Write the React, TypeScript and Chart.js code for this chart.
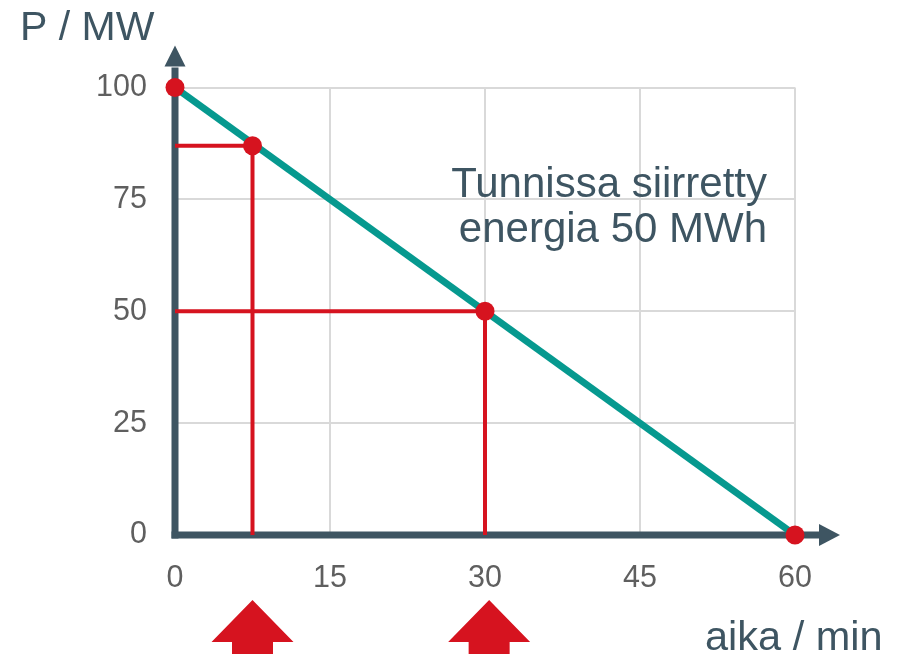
import React, { useEffect, useRef } from 'react';
import { Chart, registerables } from 'chart.js';

Chart.register(...registerables);

// ---- data ----
const xTickValues = [0, 15, 30, 45, 60];
const yTickValues = [0, 25, 50, 75, 100];
const lineX = [0, 60];
const lineY = [100, 0];
const markX = [0, 7.5, 30, 60];
const markY = [100, 87, 50, 0];
const guideX = [7.5, 30];
const guideY = [87, 50];
const arrowX = [7.5, 30.4];
const yTitle = 'P / MW';
const xTitle = 'aika / min';
const noteLines = ['Tunnissa siirretty', 'energia 50 MWh'];

// ---- styles ----
const AXIS = '#3e5562';
const TEAL = '#06998f';
const RED = '#d6131f';
const GRID = '#d9d9d9';
const TICK = '#5f5f5f';
const FONT = '"Liberation Sans", Arial, sans-serif';

const decorPlugin = {
  id: 'decor',
  beforeDatasetsDraw(chart: any) {
    const { ctx, chartArea } = chart;
    const xs = chart.scales.x;
    const ys = chart.scales.y;
    const x0 = xs.getPixelForValue(0);
    const y0 = ys.getPixelForValue(0);
    ctx.save();
    ctx.strokeStyle = AXIS;
    ctx.fillStyle = AXIS;
    ctx.lineWidth = 7;
    ctx.lineCap = 'butt';
    // y axis
    ctx.beginPath();
    ctx.moveTo(x0, y0 + 3.5);
    ctx.lineTo(x0, chartArea.top - 20);
    ctx.stroke();
    ctx.beginPath();
    ctx.moveTo(x0 - 10.5, chartArea.top - 21);
    ctx.lineTo(x0 + 10.5, chartArea.top - 21);
    ctx.lineTo(x0, chartArea.top - 42);
    ctx.closePath();
    ctx.fill();
    // x axis
    ctx.beginPath();
    ctx.moveTo(x0 - 3.5, y0);
    ctx.lineTo(chartArea.right + 25, y0);
    ctx.stroke();
    ctx.beginPath();
    ctx.moveTo(chartArea.right + 24, y0 - 11);
    ctx.lineTo(chartArea.right + 24, y0 + 11);
    ctx.lineTo(chartArea.right + 45, y0);
    ctx.closePath();
    ctx.fill();
    ctx.restore();
  },
  afterDraw(chart: any) {
    const { ctx } = chart;
    const xs = chart.scales.x;
    ctx.save();
    // up arrows below axis
    ctx.fillStyle = RED;
    arrowX.forEach((v) => {
      const px = xs.getPixelForValue(v);
      ctx.beginPath();
      ctx.moveTo(px, 600);
      ctx.lineTo(px + 41, 642);
      ctx.lineTo(px + 20.5, 642);
      ctx.lineTo(px + 20.5, 670);
      ctx.lineTo(px - 20.5, 670);
      ctx.lineTo(px - 20.5, 642);
      ctx.lineTo(px - 41, 642);
      ctx.closePath();
      ctx.fill();
    });
    // texts
    ctx.fillStyle = AXIS;
    ctx.textBaseline = 'alphabetic';
    ctx.font = `41px ${FONT}`;
    ctx.textAlign = 'left';
    ctx.fillText(yTitle, 20, 40);
    ctx.font = `41.5px ${FONT}`;
    ctx.fillText(xTitle, 705, 650);
    ctx.font = `42px ${FONT}`;
    ctx.textAlign = 'right';
    ctx.fillText(noteLines[0], 767, 197);
    ctx.fillText(noteLines[1], 767, 242);
    ctx.restore();
  },
};

export default function App() {
  const ref = useRef<HTMLCanvasElement>(null);

  useEffect(() => {
    if (!ref.current) return;
    const guideSets = guideX.map((gx, i) => ({
      type: 'scatter' as const,
      data: [
        { x: 0, y: guideY[i] },
        { x: gx, y: guideY[i] },
        { x: gx, y: 0 },
      ],
      showLine: true,
      borderColor: RED,
      borderWidth: 4,
      pointRadius: 0,
      clip: false as any,
      order: 3,
    }));
    const chart = new Chart(ref.current, {
      type: 'scatter',
      data: {
        datasets: [
          {
            data: markX.map((x, i) => ({ x, y: markY[i] })),
            backgroundColor: RED,
            borderColor: RED,
            pointRadius: 9.5,
            pointBorderWidth: 0,
            showLine: false,
            clip: false as any,
            order: 0,
          },
          {
            data: lineX.map((x, i) => ({ x, y: lineY[i] })),
            showLine: true,
            borderColor: TEAL,
            borderWidth: 7,
            pointRadius: 0,
            clip: false as any,
            order: 1,
          },
          ...guideSets,
        ] as any,
      },
      options: {
        animation: false,
        responsive: false,
        devicePixelRatio: 1,
        layout: { padding: { left: 0, right: 111, top: 87.5, bottom: 0 } },
        plugins: {
          legend: { display: false },
          tooltip: { enabled: false },
        },
        scales: {
          x: {
            type: 'linear',
            min: 0,
            max: 60,
            afterBuildTicks: (scale: any) => {
              scale.ticks = xTickValues.map((v) => ({ value: v }));
            },
            afterFit: (scale: any) => {
              scale.height = 119;
            },
            grid: { color: GRID, lineWidth: 2, drawTicks: false },
            border: { display: false },
            ticks: {
              color: TICK,
              font: { family: FONT, size: 30.5 },
              padding: 25,
              maxRotation: 0,
              autoSkip: false,
            },
          },
          y: {
            type: 'linear',
            min: 0,
            max: 100,
            afterBuildTicks: (scale: any) => {
              scale.ticks = yTickValues.map((v) => ({ value: v }));
            },
            afterFit: (scale: any) => {
              scale.width = 175;
            },
            grid: { color: GRID, lineWidth: 2, drawTicks: false },
            border: { display: false },
            ticks: {
              color: TICK,
              font: { family: FONT, size: 30.5 },
              padding: 28,
              autoSkip: false,
            },
          },
        },
      },
      plugins: [decorPlugin],
    });
    return () => chart.destroy();
  }, []);

  return (
    <div style={{ position: 'absolute', left: 0, top: 0, width: 906, height: 654, background: '#fff' }}>
      <canvas ref={ref} width={906} height={654} style={{ display: 'block', width: 906, height: 654 }} />
    </div>
  );
}
